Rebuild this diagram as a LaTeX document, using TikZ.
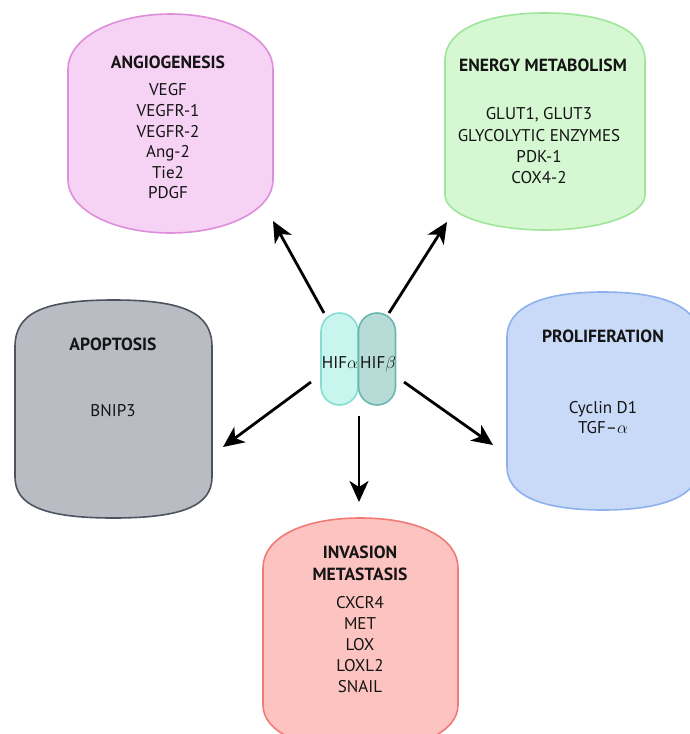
\documentclass[tikz,border=0pt]{standalone}
\usepackage{fontspec}
\setmainfont{PT Sans}
\usetikzlibrary{arrows.meta}
\definecolor{angF}{HTML}{F6D3F4}\definecolor{angD}{HTML}{DD8FDB}
\definecolor{eneF}{HTML}{D5F8D2}\definecolor{eneD}{HTML}{9FE59A}
\definecolor{apoF}{HTML}{B9BCC3}\definecolor{apoD}{HTML}{4E5360}
\definecolor{proF}{HTML}{C9DAF8}\definecolor{proD}{HTML}{8DB0EE}
\definecolor{invF}{HTML}{FDC3C1}\definecolor{invD}{HTML}{F07B74}
\definecolor{hafF}{HTML}{C9F5EF}\definecolor{hafD}{HTML}{86DDD2}
\definecolor{hbfF}{HTML}{B7DBD7}\definecolor{hbfD}{HTML}{6AB7AF}
\definecolor{txt}{HTML}{141414}
% L R T B htop ktop hbot kbot style
\newcommand\capbox[9]{%
 \draw[#9] (#1,{#3+#5}) .. controls (#1,{#3+(1-#6)*#5}) and ({#1+(1-#6)*(#2-#1)/2},#3) .. ({(#1+#2)/2},#3)
  .. controls ({#2-(1-#6)*(#2-#1)/2},#3) and (#2,{#3+(1-#6)*#5}) .. (#2,{#3+#5})
  -- (#2,{#4-#7}) .. controls (#2,{#4-(1-#8)*#7}) and ({#2-(1-#8)*(#2-#1)/2},#4) .. ({(#1+#2)/2},#4)
  .. controls ({#1+(1-#8)*(#2-#1)/2},#4) and (#1,{#4-(1-#8)*#7}) .. (#1,{#4-#7}) -- cycle;}
\tikzset{
 boxline/.style={line width=1.6pt},
 item/.style={anchor=base, inner sep=0pt, text=txt, font=\fontsize{17}{20}\selectfont},
 ttl/.style={item, font=\fontsize{17.6}{20}\selectfont\bfseries},
 hif/.style={anchor=base, inner sep=0pt, text=txt, font=\fontsize{17}{20}\selectfont},
 capsule/.style={line width=1.6pt, rounded corners=18.5pt, minimum width=37pt, minimum height=92pt, inner sep=0pt},
 arr/.style={line width=2.8pt, draw=black, -{Stealth[length=21pt,width=19pt,inset=6pt]}}
}
\begin{document}
\begin{tikzpicture}[x=1pt,y=-1pt]
\useasboundingbox (0,0) rectangle (690,734);
\clip (0,0) rectangle (690,734);
% boxes
\capbox{68}{273}{14}{233}{55}{0.56}{53}{0.56}{boxline,fill=angF,draw=angD}
\capbox{445}{645}{13}{230}{47}{0.62}{35}{0.56}{boxline,fill=eneF,draw=eneD}
\capbox{15}{212}{300}{518}{47}{0.72}{41}{0.7}{boxline,fill=apoF,draw=apoD}
\capbox{507}{699}{292}{510}{45}{0.65}{43}{0.65}{boxline,fill=proF,draw=proD}
\capbox{263}{458}{518}{750}{50}{0.6}{45}{0.6}{boxline,fill=invF,draw=invD}
% texts
\def\bo{5.8}
\node[ttl] (angT) at (168,{63+\bo}) {ANGIOGENESIS};
\foreach \t [count=\i] in {VEGF,VEGFR-1,VEGFR-2,Ang-2,Tie2,PDGF}
  \node[item] (ang\i) at (168,{90+(\i-1)*20.6+\bo}) {\t};
\node[ttl] (eneT) at (543,{66+\bo}) {ENERGY METABOLISM};
\foreach \t [count=\i] in {{GLUT1, GLUT3},GLYCOLYTIC ENZYMES,PDK-1,COX4-2}
  \node[item] (ene\i) at (539,{114+(\i-1)*21.2+\bo}) {\t};
\node[ttl] (apoT) at (113,{345+\bo}) {APOPTOSIS};
\node[item] (apo1) at (113,{411+\bo}) {BNIP3};
\node[ttl] (proT) at (603,{337+\bo}) {PROLIFERATION};
\node[item] (pro1) at (603,{408+\bo}) {Cyclin D1};
\node[item] (pro2) at (603,{428+\bo}) {TGF--$\alpha$};
\node[ttl] (invT1) at (360,{553+\bo}) {INVASION};
\node[ttl] (invT2) at (360,{575+\bo}) {METASTASIS};
\foreach \t [count=\i] in {CXCR4,MET,LOX,LOXL2,SNAIL}
  \node[item] (inv\i) at (360,{603+(\i-1)*21+\bo}) {\t};
% HIF
\node[capsule, fill=hafF, draw=hafD] (hifa) at (339.5,359) {};
\node[capsule, fill=hbfF, draw=hbfD] (hifb) at (377,359) {};
\node[hif] (hifaT) at (340,{362+6}) {HIF$\alpha$};
\node[hif] (hifbT) at (378,{362+6}) {HIF$\beta$};
% arrows
\coordinate (tA) at (324,313); \coordinate (hA) at (273,221);
\coordinate (tE) at (389,313); \coordinate (hE) at (447,222);
\coordinate (tP) at (311,382); \coordinate (hP) at (223,447);
\coordinate (tR) at (404,382); \coordinate (hR) at (493,445);
\coordinate (tI) at (359,416); \coordinate (hI) at (359,502);
\draw[arr] (tA) -- (hA);
\draw[arr] (tE) -- (hE);
\draw[arr] (tP) -- (hP);
\draw[arr] (tR) -- (hR);
\draw[arr] (tI) -- (hI);
\end{tikzpicture}
\end{document}
